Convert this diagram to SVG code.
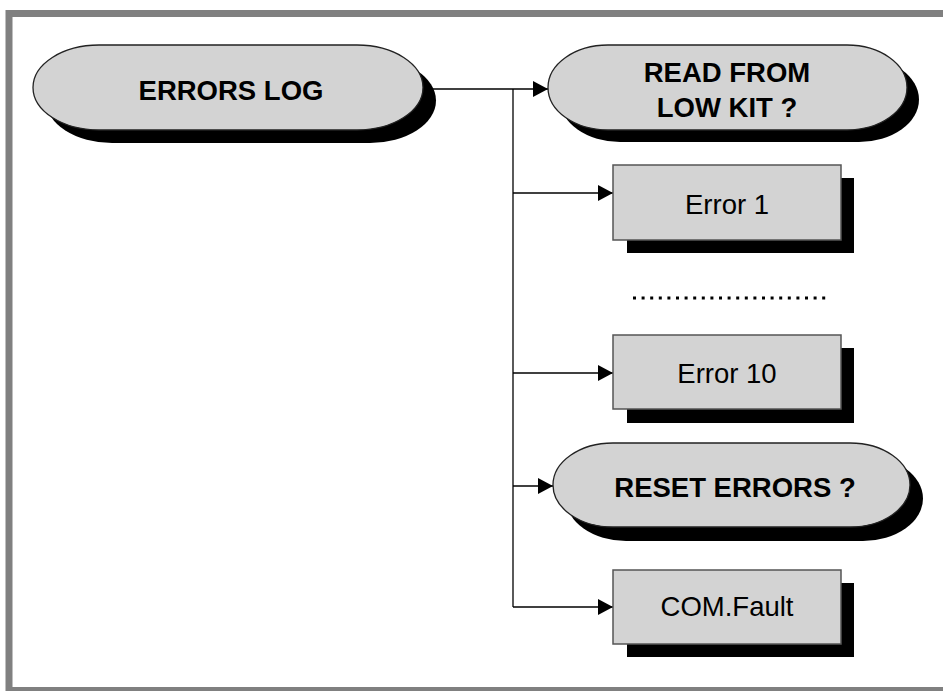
<svg xmlns="http://www.w3.org/2000/svg" width="943" height="691" viewBox="0 0 943 691">
<style>
.frame{fill:none;stroke:#808080;stroke-width:7}
.shadow{fill:#000}
.pill{fill:#d3d3d3;stroke:#222;stroke-width:1.3}
.box{fill:#d3d3d3;stroke:#555;stroke-width:1.5}
.conn{fill:none;stroke:#000;stroke-width:1.3}
.tb{font-family:"Liberation Sans",Arial,sans-serif;font-weight:bold;font-size:27.5px;fill:#000;text-anchor:middle}
.tr{font-family:"Liberation Sans",Arial,sans-serif;font-size:27.5px;fill:#000;text-anchor:middle}
.dots{fill:none;stroke:#000;stroke-width:3;stroke-dasharray:3 5.6}
</style>
<defs>
<marker id="arr" viewBox="0 0 15 16" refX="15" refY="8" markerWidth="15" markerHeight="16" markerUnits="userSpaceOnUse" orient="auto">
<path d="M0,0 L15,8 L0,16 Z" fill="#000"/>
</marker>
</defs>
<rect width="943" height="691" fill="#fff"/>
<rect class="frame" x="9" y="13.5" width="970" height="677"/>
<g id="connectors">
<path class="conn" d="M423,89 H548" marker-end="url(#arr)"/>
<path class="conn" d="M513,89 V607"/>
<path class="conn" d="M513,193 H613" marker-end="url(#arr)"/>
<path class="conn" d="M513,373 H613" marker-end="url(#arr)"/>
<path class="conn" d="M513,486 H553" marker-end="url(#arr)"/>
<path class="conn" d="M513,607 H613" marker-end="url(#arr)"/>
</g>
<g id="errors-log">
<rect class="shadow" x="46" y="58" width="390" height="85" rx="66" ry="42.5"/>
<rect class="pill" x="33" y="45" width="390" height="85" rx="66" ry="42.5"/>
<text class="tb" x="231" y="100">ERRORS LOG</text>
</g>
<g id="read-from-low-kit">
<rect class="shadow" x="560" y="57" width="359" height="85" rx="60" ry="42.5"/>
<rect class="pill" x="548" y="45" width="359" height="85" rx="60" ry="42.5"/>
<text class="tb" x="727" y="82">READ FROM</text>
<text class="tb" x="727" y="117">LOW KIT ?</text>
</g>
<g id="error-1">
<rect class="shadow" x="627" y="178" width="227" height="75"/>
<rect class="box" x="613" y="165" width="228" height="75"/>
<text class="tr" x="727" y="214">Error 1</text>
</g>
<g id="ellipsis">
<line class="dots" x1="633" y1="298" x2="830" y2="298"/>
</g>
<g id="error-10">
<rect class="shadow" x="627" y="348" width="227" height="75"/>
<rect class="box" x="613" y="335" width="228" height="74"/>
<text class="tr" x="727" y="383">Error 10</text>
</g>
<g id="reset-errors">
<rect class="shadow" x="566" y="456" width="357" height="85" rx="60" ry="42.5"/>
<rect class="pill" x="553" y="443" width="357" height="84" rx="60" ry="42"/>
<text class="tb" x="735" y="497">RESET ERRORS ?</text>
</g>
<g id="com-fault">
<rect class="shadow" x="627" y="583" width="227" height="74"/>
<rect class="box" x="613" y="570" width="228" height="74"/>
<text class="tr" x="727" y="616">COM.Fault</text>
</g>
</svg>
